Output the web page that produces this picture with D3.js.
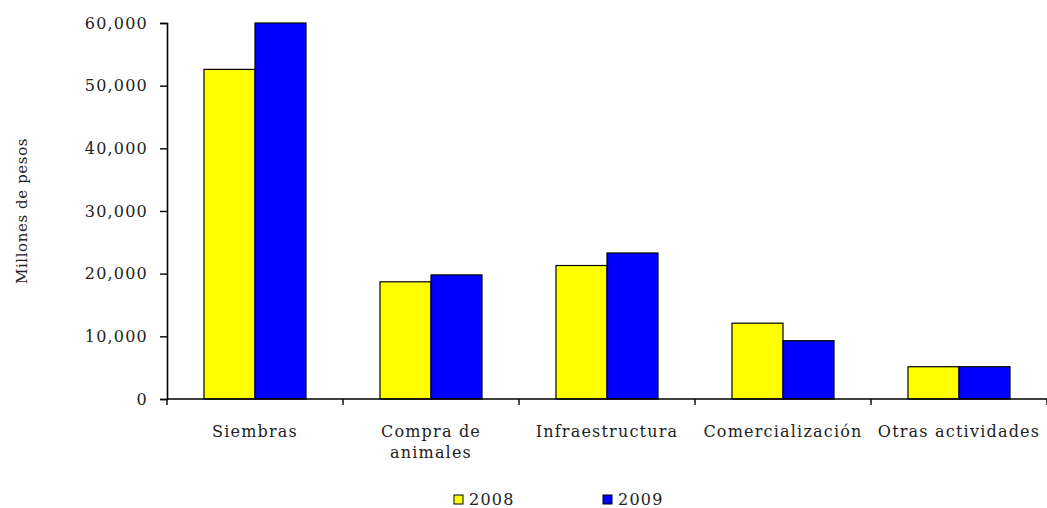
<!DOCTYPE html>
<html><head><meta charset="utf-8">
<script src="https://cdn.jsdelivr.net/npm/d3@7"></script>
<style>
body{margin:0;background:#fff;}
text{font-family:"DejaVu Serif","Liberation Serif",serif;fill:#222;letter-spacing:1.2px;}
</style></head>
<body><svg id="c" width="1047" height="508"></svg>
<script>
const categories = ["Siembras", "Compra de animales", "Infraestructura", "Comercialización", "Otras actividades"];
const categoryLines = [["Siembras"], ["Compra de", "animales"], ["Infraestructura"], ["Comercialización"], ["Otras actividades"]];
const seriesNames = ["2008", "2009"];
const values2008 = [52600, 18700, 21300, 12100, 5150];
const values2009 = [60000, 19800, 23300, 9300, 5150];
const yTicks = [0, 10000, 20000, 30000, 40000, 50000, 60000];
const colors = ["#ffff00", "#0000ff"];

(function () {
const svg = d3.select("#c");
const mLeft = 167, mRight = 1047, mTop = 23, mBottom = 399;
const x = d3.scaleBand().domain(categories).range([mLeft, mRight]).paddingInner(0).paddingOuter(0);
const x1 = d3.scaleBand().domain(seriesNames).range([0, 102]);
const y = d3.scaleLinear().domain([0, 60000]).range([mBottom, mTop]);
const series = [values2008, values2009];
const fs = 16;

// bars
series.forEach((vals, si) => {
  svg.append("g").selectAll("rect").data(categories).join("rect")
    .attr("x", c => x(c) + (x.bandwidth() - 102) / 2 + x1(seriesNames[si]))
    .attr("y", (c, i) => y(vals[i]))
    .attr("width", x1.bandwidth())
    .attr("height", (c, i) => y(0) - y(vals[i]))
    .attr("fill", colors[si])
    .attr("stroke", "#000").attr("stroke-width", 1.2);
});

// y axis
const ya = svg.append("g").attr("transform", `translate(${mLeft},0)`)
  .call(d3.axisLeft(y).tickValues(yTicks).tickSize(7).tickPadding(12).tickFormat(d3.format(",")));
ya.select(".domain").attr("stroke", "#000").attr("stroke-width", 1.6);
ya.selectAll(".tick line").attr("stroke", "#000").attr("stroke-width", 1.4);
ya.selectAll(".tick text").attr("font-size", fs).attr("font-family", "DejaVu Serif").attr("fill", "#222");

// x axis
const xa = svg.append("g").attr("transform", `translate(0,${mBottom})`);
xa.append("line").attr("x1", mLeft).attr("x2", mRight).attr("y1", 0).attr("y2", 0).attr("stroke", "#000").attr("stroke-width", 1.6);
const bounds = categories.map(c => x(c)).concat([x(categories[categories.length - 1]) + x.bandwidth()]);
xa.selectAll("line.tk").data(bounds).join("line").attr("class", "tk")
  .attr("x1", d => d).attr("x2", d => d).attr("y1", 0).attr("y2", 6)
  .attr("stroke", "#000").attr("stroke-width", 1.4);
categories.forEach((c, i) => {
  const t = svg.append("text").attr("text-anchor", "middle").attr("font-size", fs)
    .attr("x", x(c) + x.bandwidth() / 2).attr("y", 437);
  categoryLines[i].forEach((ln, j) => {
    t.append("tspan").attr("x", x(c) + x.bandwidth() / 2).attr("dy", j === 0 ? 0 : 21).text(ln);
  });
});

// y title
svg.append("text").attr("transform", "translate(27,211) rotate(-90)").attr("text-anchor", "middle")
  .attr("font-size", 15).style("letter-spacing", "0.6px").text("Millones de pesos");

// legend
const legX = [454, 603];
seriesNames.forEach((s, i) => {
  svg.append("rect").attr("x", legX[i]).attr("y", 495).attr("width", 9).attr("height", 9)
    .attr("fill", colors[i]).attr("stroke", "#000").attr("stroke-width", 1);
  svg.append("text").attr("x", legX[i] + 15).attr("y", 505).attr("font-size", fs).text(s);
});
})();
</script></body></html>
